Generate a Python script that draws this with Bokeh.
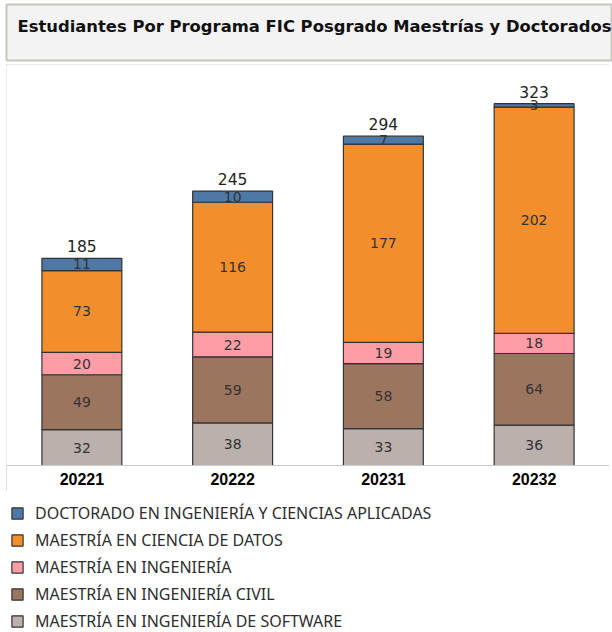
from bokeh.plotting import figure
from bokeh.models import ColumnDataSource, Range1d, Label, Legend, LegendItem, Spacer
from bokeh.layouts import column, row
from bokeh.core.properties import value
from bokeh.embed import file_html
from bokeh.resources import INLINE

# ---- data ----
title_text = "Estudiantes Por Programa FIC Posgrado Maestrías  y Doctorados"
periods = ["20221", "20222", "20231", "20232"]
software = [32, 38, 33, 36]
civil = [49, 59, 58, 64]
ingenieria = [20, 22, 19, 18]
datos = [73, 116, 177, 202]
doctorado = [11, 10, 7, 3]

series_keys = ["software", "civil", "ingenieria", "datos", "doctorado"]
series_vals = [software, civil, ingenieria, datos, doctorado]
series_names = [
    "MAESTRÍA EN INGENIERÍA DE SOFTWARE",
    "MAESTRÍA EN INGENIERÍA CIVIL",
    "MAESTRÍA EN INGENIERÍA",
    "MAESTRÍA EN CIENCIA DE DATOS",
    "DOCTORADO EN INGENIERÍA Y CIENCIAS APLICADAS",
]
colors = ["#bab0ac", "#9c755f", "#ff9da7", "#f28e2b", "#4e79a7"]

# ---- derived columns ----
data = {"period": periods}
for k, v in zip(series_keys, series_vals):
    data[k] = v
cum = [0] * len(periods)
for k, v in zip(series_keys, series_vals):
    data[k + "_mid"] = [c + x / 2 for c, x in zip(cum, v)]
    data[k + "_lbl"] = [str(x) for x in v]
    cum = [c + x for c, x in zip(cum, v)]
data["total"] = cum
data["total_lbl"] = [str(t) for t in cum]
source = ColumnDataSource(data)

# ---- title figure ----
tf = figure(width=612, height=64, x_range=Range1d(0, 1), y_range=Range1d(0, 1),
            toolbar_location=None, output_backend="svg",
            x_axis_location=None, y_axis_location=None,
            min_border_left=6, min_border_right=0, min_border_top=4, min_border_bottom=4,
            background_fill_color="#f3f3f3", border_fill_color="white",
            outline_line_color="#c6c5bf", outline_line_width=2)
tf.xgrid.visible = False
tf.ygrid.visible = False
tf.add_layout(Label(x=11, y=34.5, x_units="screen", y_units="screen", text=title_text,
                    text_font="DejaVu Sans", text_font_style="bold", text_font_size="16.4px",
                    text_color="#111111", text_baseline="alphabetic", text_align="left"))

# ---- main figure ----
p = figure(width=603, height=427, x_range=periods, y_range=Range1d(0, 358),
           toolbar_location=None, output_backend="svg", y_axis_location=None,
           min_border_left=0, min_border_right=0, min_border_top=0, min_border_bottom=26,
           background_fill_color="white", border_fill_color="white",
           outline_line_color=None)
p.styles = {"outline": "2px solid #d6d6d6", "outline-offset": "-2px"}
p.xgrid.visible = False
p.ygrid.visible = False

p.vbar_stack(series_keys, x="period", width=0.53, source=source,
             fill_color=colors, line_color="#333333", line_width=1.2)

for k in series_keys:
    p.text(x="period", y=k + "_mid", text=k + "_lbl", source=source,
           text_align="center", text_baseline="middle",
           text_font=value("DejaVu Sans"), text_font_size="14px", text_color="#333333")

p.text(x="period", y="total", text="total_lbl", source=source, y_offset=-12,
       text_align="center", text_baseline="alphabetic",
       text_font=value("DejaVu Sans"), text_font_size="15.5px", text_color="#222222")

xa = p.xaxis[0]
xa.axis_line_color = "#c8c8c8"
xa.axis_line_width = 1
xa.major_tick_line_color = None
xa.minor_tick_line_color = None
xa.major_label_standoff = 1
xa.major_label_text_font = "Liberation Sans"
xa.major_label_text_font_style = "bold"
xa.major_label_text_font_size = "16px"
xa.major_label_text_color = "#000000"

# ---- legend figure (bars kept outside its visible range; only the legend shows) ----
lf = figure(width=612, height=141, x_range=periods, y_range=Range1d(10000, 10001),
            toolbar_location=None, output_backend="svg",
            x_axis_location=None, y_axis_location=None, min_border=0,
            outline_line_color=None, background_fill_color="white", border_fill_color="white")
lf.xgrid.visible = False
lf.ygrid.visible = False
rs = lf.vbar_stack(series_keys, x="period", width=0.53, source=source,
                   fill_color=colors, line_color="#333333", line_width=1.2)
items = [LegendItem(label=name, renderers=[r]) for name, r in zip(series_names, rs)]
items.reverse()
legend = Legend(items=items, location=(4, 0), padding=0, margin=0, spacing=5,
                glyph_width=14, glyph_height=14, label_height=20, label_standoff=11,
                label_text_font="Noto Sans", label_text_font_size="16px",
                label_text_color="#2e2e2e", border_line_color=None,
                background_fill_alpha=0)
lf.add_layout(legend, "center")

layout = column(tf, row(Spacer(width=6, height=427), p, spacing=0), lf, spacing=0)
open("out.html", "w").write(file_html(layout, INLINE))
